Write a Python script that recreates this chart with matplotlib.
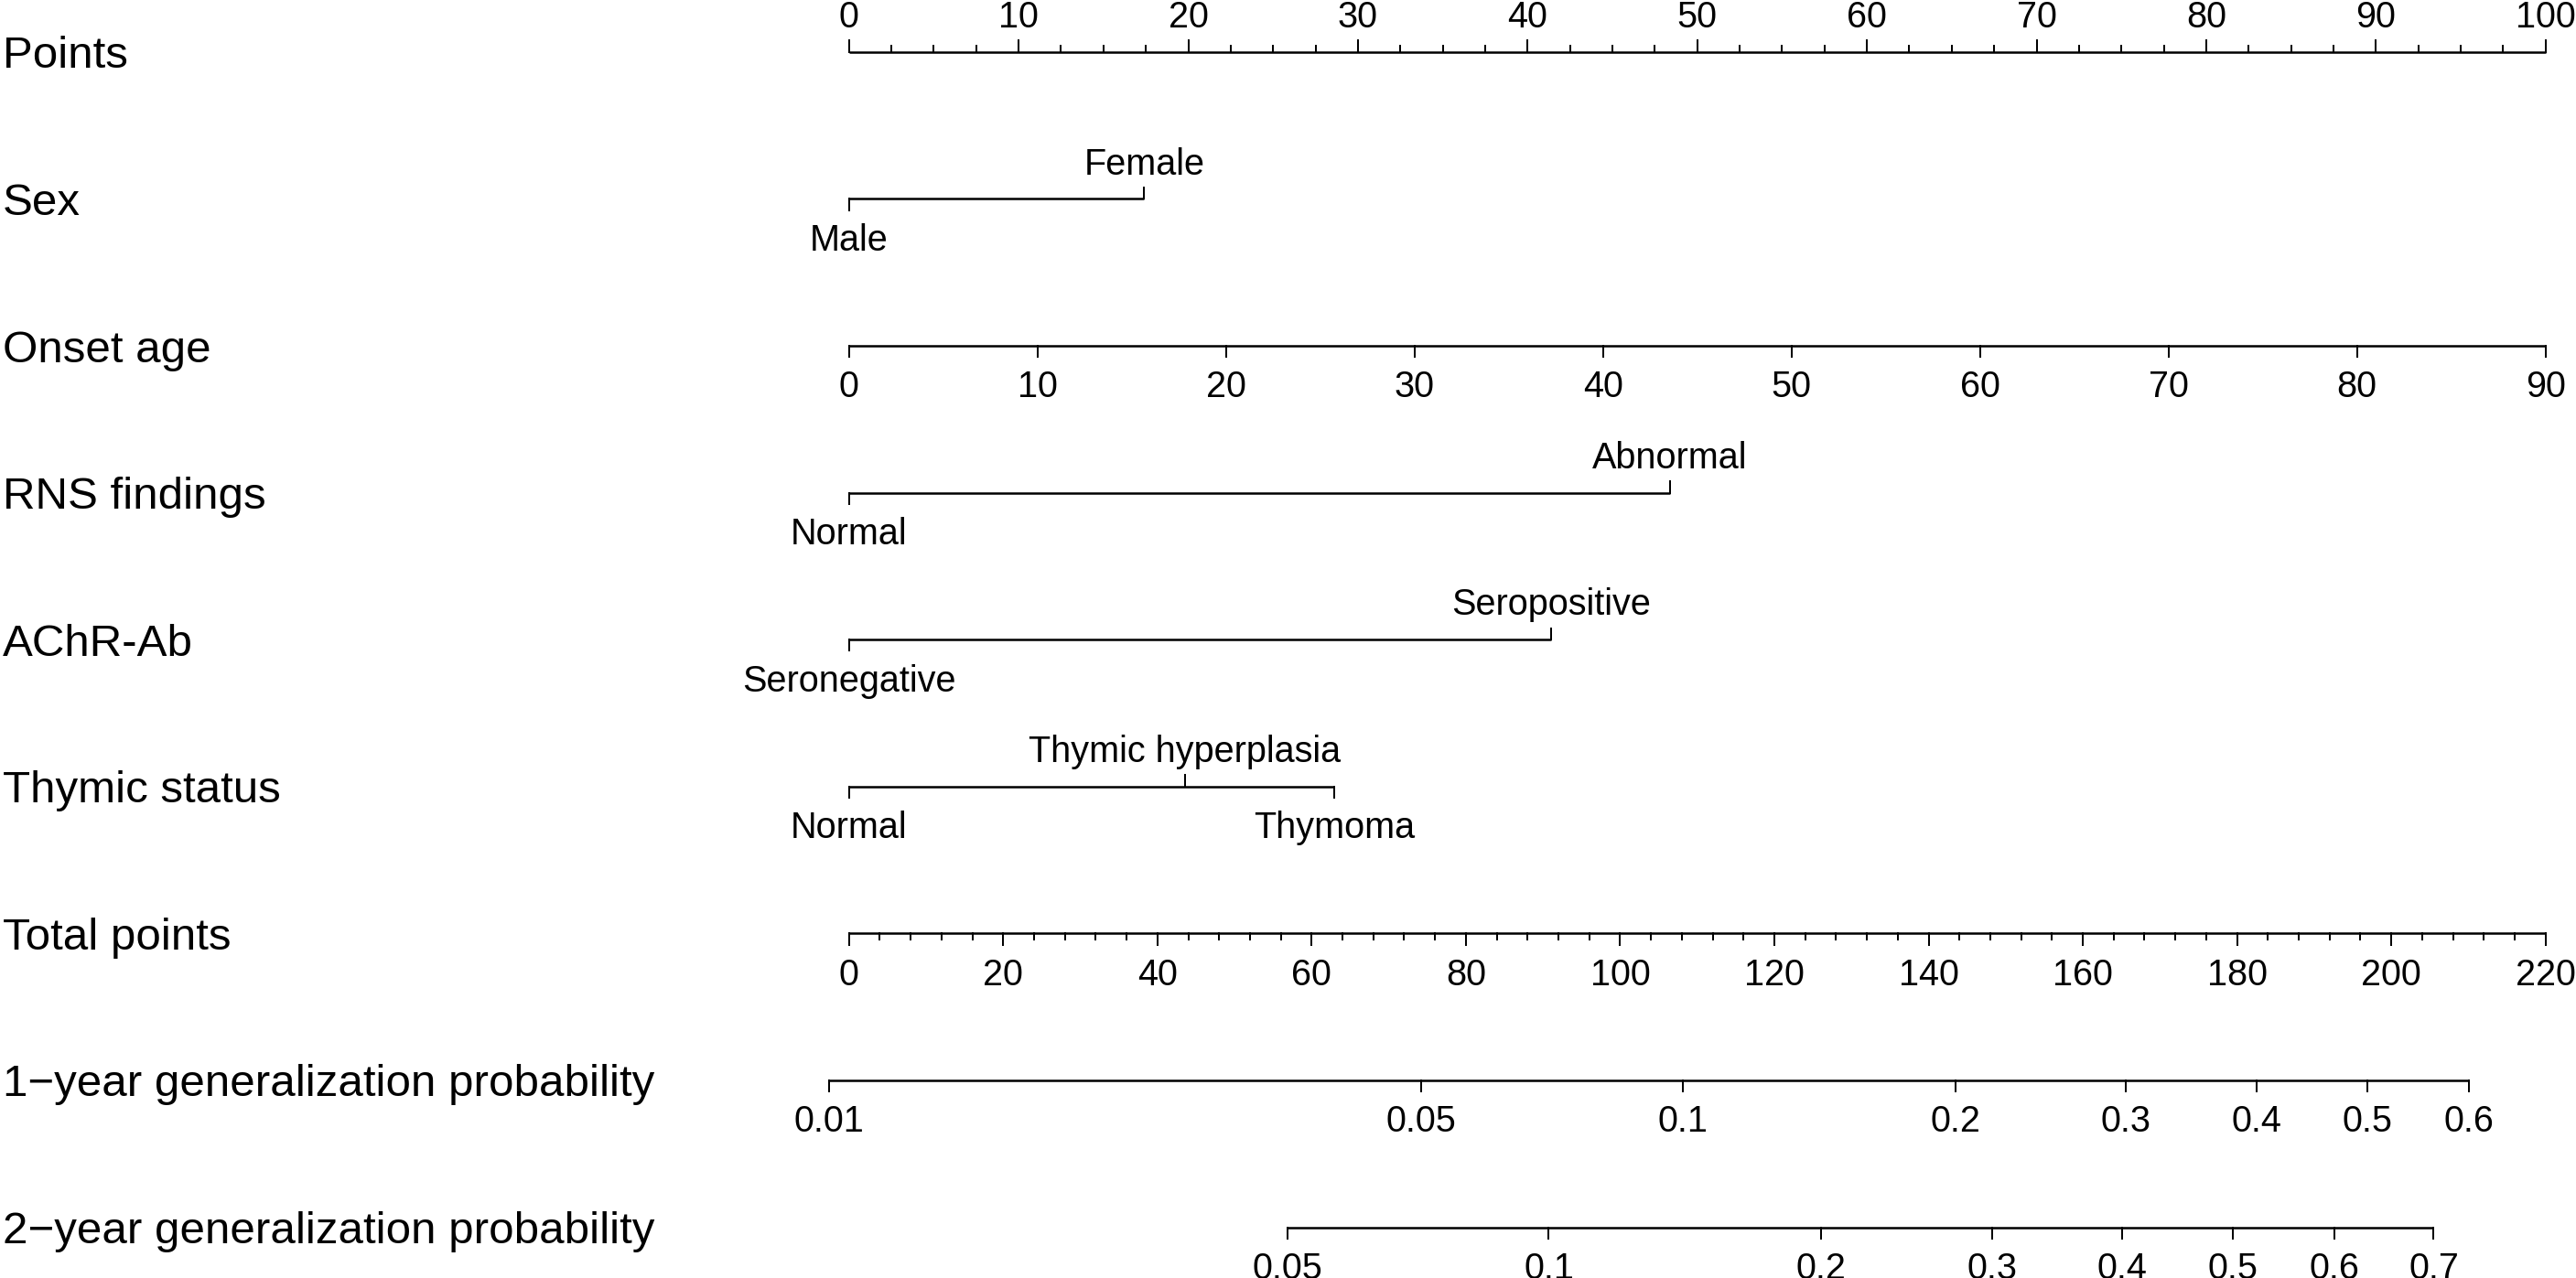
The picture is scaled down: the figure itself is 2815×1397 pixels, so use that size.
import numpy as np
import matplotlib
matplotlib.use("Agg")
import matplotlib.pyplot as plt
import matplotlib.transforms as mtransforms

plt.rcParams['font.family'] = ['Liberation Sans', 'DejaVu Sans']

# ---------------- data ----------------
row_labels = ["Points", "Sex", "Onset age", "RNS findings", "AChR-Ab",
              "Thymic status", "Total points",
              "1\u2212year generalization probability",
              "2\u2212year generalization probability"]

points_ticks = list(range(0, 101, 10))
points_minor_step = 2.5

sex_levels = ["Male", "Female"]
sex_points = [0.0, 17.4]

onset_age_ticks = list(range(0, 91, 10))
onset_age_max_points = 100.0   # points at age 90

rns_levels = ["Normal", "Abnormal"]
rns_points = [0.0, 48.4]

achr_levels = ["Seronegative", "Seropositive"]
achr_points = [0.0, 41.4]

thymic_levels = ["Normal", "Thymic hyperplasia", "Thymoma"]
thymic_points = [0.0, 19.8, 28.6]

total_ticks = list(range(0, 221, 20))
total_minor_step = 4
total_max = 220

prob1_ticks = [0.01, 0.05, 0.1, 0.2, 0.3, 0.4, 0.5, 0.6]
prob1_labels = ["0.01", "0.05", "0.1", "0.2", "0.3", "0.4", "0.5", "0.6"]
prob2_ticks = [0.05, 0.1, 0.2, 0.3, 0.4, 0.5, 0.6, 0.7]
prob2_labels = ["0.05", "0.1", "0.2", "0.3", "0.4", "0.5", "0.6", "0.7"]

# Cox model: cloglog(p) = intercept + slope * total_points
cox_slope = 0.02123
cox_intercept_1y = -4.546
cox_intercept_2y = -4.177

# ---------------- layout ----------------
W, H, DPI = 2815, 1397, 100
fig = plt.figure(figsize=(W / DPI, H / DPI), dpi=DPI)
ax = fig.add_axes([0, 0, 1, 1])
ax.axis('off')

X0_PX, PT_PX = 927.7, 18.54     # pixel of 0 points, pixels per point
Y0_PX, ROW_PX = 56.7, 160.6     # pixel of first row, pixels per row
ax.set_xlim(-X0_PX / PT_PX, (W - X0_PX) / PT_PX)
ax.set_ylim((H - Y0_PX) / ROW_PX, -Y0_PX / ROW_PX)

LW = 1.8
TICK_FS = 28.5
LAB_FS = 35.5
PX2PT = 72.0 / DPI
MAJ = 12.3 / ROW_PX
MIN = 6.7 / ROW_PX


def tick_label(x, row, text, above):
    off = 26.7 if above else -56.5
    ax.annotate(text, xy=(x, row), xytext=(0, off * PX2PT),
                textcoords='offset points', ha='center', va='baseline',
                fontsize=TICK_FS, color='black')


def draw_axis(row, xs, labels, above, minor_xs=None):
    ax.plot([min(xs), max(xs)], [row, row], color='black', lw=LW,
            solid_capstyle='butt')
    sgn = -1 if above else 1
    for x, lab in zip(xs, labels):
        ax.plot([x, x], [row, row + sgn * MAJ], color='black', lw=LW * 0.8)
        tick_label(x, row, lab, above)
    if minor_xs is not None:
        for x in minor_xs:
            ax.plot([x, x], [row, row + sgn * MIN], color='black', lw=LW * 0.8)


def draw_categorical(row, levels, pts):
    ax.plot([min(pts), max(pts)], [row, row], color='black', lw=LW,
            solid_capstyle='butt')
    for i, (lev, p) in enumerate(zip(levels, pts)):
        above = (i % 2 == 1)
        sgn = -1 if above else 1
        ax.plot([p, p], [row, row + sgn * MAJ], color='black', lw=LW * 0.8)
        tick_label(p, row, lev, above)


# row labels
trans = mtransforms.blended_transform_factory(ax.transAxes, ax.transData)
for r, lab in enumerate(row_labels):
    ax.annotate(lab, xy=(3 / W, r), xycoords=trans,
                xytext=(0, -17.6 * PX2PT), textcoords='offset points',
                ha='left', va='baseline', fontsize=LAB_FS, color='black')

# Points
pm = np.arange(0, 100 + 1e-9, points_minor_step)
draw_axis(0, points_ticks, [str(v) for v in points_ticks], True,
          [v for v in pm if v not in points_ticks])

# Sex
draw_categorical(1, sex_levels, sex_points)

# Onset age
age_pts = [a * onset_age_max_points / max(onset_age_ticks) for a in onset_age_ticks]
draw_axis(2, age_pts, [str(a) for a in onset_age_ticks], False)

# RNS, AChR, Thymic
draw_categorical(3, rns_levels, rns_points)
draw_categorical(4, achr_levels, achr_points)
draw_categorical(5, thymic_levels, thymic_points)

# Total points
tp_scale = 100.0 / total_max
tm = np.arange(0, total_max + 1e-9, total_minor_step)
draw_axis(6, [t * tp_scale for t in total_ticks], [str(t) for t in total_ticks],
          False, [t * tp_scale for t in tm if t not in total_ticks])


def prob_to_points(p, intercept):
    cll = np.log(-np.log(1 - np.asarray(p)))
    return (cll - intercept) / cox_slope * tp_scale


draw_axis(7, list(prob_to_points(prob1_ticks, cox_intercept_1y)), prob1_labels, False)
draw_axis(8, list(prob_to_points(prob2_ticks, cox_intercept_2y)), prob2_labels, False)

fig.savefig("out.png", dpi=DPI, facecolor='white')
